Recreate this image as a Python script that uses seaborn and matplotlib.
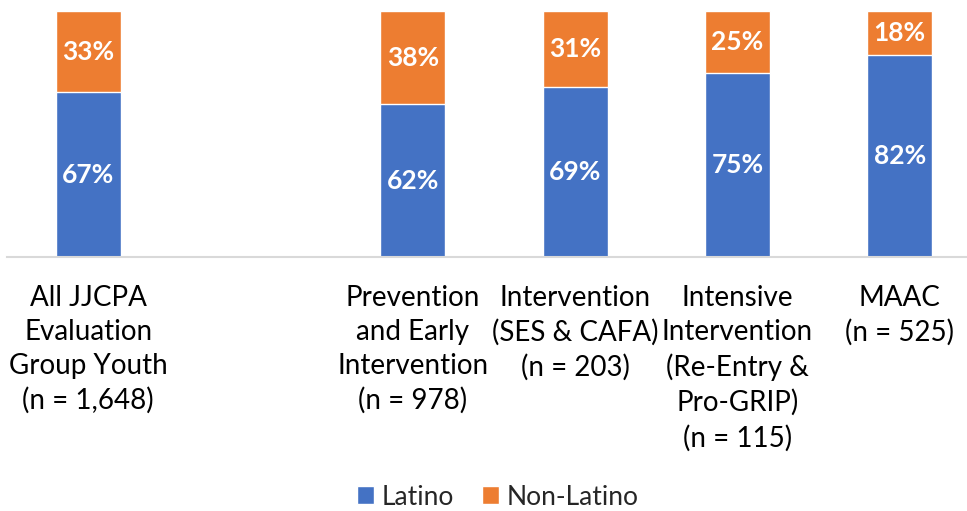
import matplotlib
matplotlib.use("Agg")
import matplotlib.pyplot as plt
import seaborn as sns
import pandas as pd
from matplotlib.patches import Patch

groups = [
    "All JJCPA\nEvaluation\nGroup Youth\n(n = 1,648)",
    "Prevention\nand Early\nIntervention\n(n = 978)",
    "Intervention\n(SES & CAFA)\n(n = 203)",
    "Intensive\nIntervention\n(Re-Entry &\nPro-GRIP)\n(n = 115)",
    "MAAC\n(n = 525)",
]
latino = [67, 62, 69, 75, 82]
non_latino = [33, 38, 31, 25, 18]
series_names = ["Latino", "Non-Latino"]

BLUE = "#4472C4"
ORANGE = "#ED7D31"

# a blank slot separates the overall group from the program groups
order = [groups[0], " ", *groups[1:]]

df = pd.DataFrame({"group": groups, "latino": latino, "non_latino": non_latino})
df["total"] = df["latino"] + df["non_latino"]

sns.set_theme(style="white")
plt.rcParams["font.family"] = ["Lato", "DejaVu Sans"]

fig = plt.figure(figsize=(9.67, 5.11), dpi=100)
ax = fig.add_axes([7 / 967, 1 - 257 / 511, 960 / 967, 246 / 511])

sns.barplot(data=df, x="group", y="total", order=order, color=ORANGE,
            width=0.4, saturation=1, ax=ax)
sns.barplot(data=df, x="group", y="latino", order=order, color=BLUE,
            width=0.4, saturation=1, ax=ax)

for i, g in enumerate(order):
    if g not in groups:
        continue
    k = groups.index(g)
    ax.text(i, latino[k] / 2, f"{latino[k]}%", ha="center", va="center",
            color="white", fontsize=19, fontweight="bold")
    ax.text(i, latino[k] + non_latino[k] / 2, f"{non_latino[k]}%", ha="center",
            va="center", color="white", fontsize=19, fontweight="bold")

ax.set_xlim(-0.5, -0.5 + 960 / 162.3)
ax.set_ylim(0, 100)
ax.set_yticks([])
ax.set_xlabel("")
ax.set_ylabel("")
ax.tick_params(axis="x", length=0, pad=20, labelsize=20, colors="#000000")
for lab in ax.get_xticklabels():
    lab.set_linespacing(1.38)
for s in ["top", "right", "left"]:
    ax.spines[s].set_visible(False)
ax.spines["bottom"].set_color("#D9D9D9")
ax.spines["bottom"].set_linewidth(1.5)

handles = [Patch(facecolor=BLUE), Patch(facecolor=ORANGE)]
fig.legend(handles, series_names, loc="center", bbox_to_anchor=(498 / 967, 1 - 497 / 511),
           ncol=2, frameon=False, fontsize=19, handlelength=0.65, handleheight=0.65,
           handletextpad=0.3, columnspacing=1.05, borderpad=0, borderaxespad=0)

fig.savefig("out.png", dpi=100)
